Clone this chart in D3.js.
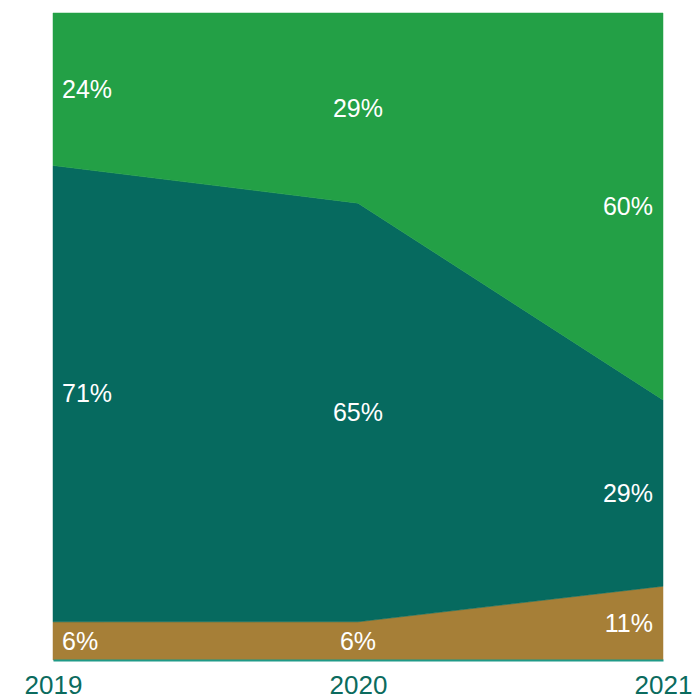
<!DOCTYPE html>
<html lang="en">
<head>
    <meta charset="UTF-8">
    <title>Share by year</title>
    <script src="https://d3js.org/d3.v7.min.js"></script>
    <style>
        body{ margin:0; background:#fff; }
        svg{ display:block; font-family: "Liberation Sans", Arial, sans-serif; }
    </style>
</head>
<body>
    <script>
        // values (shares, bottom to top)
        const years = ["2019", "2020", "2021"]
        const bottomShare = [5.9, 5.9, 11.4]
        const middleShare = [70.6, 64.7, 28.8]
        const topShare = [23.6, 29.4, 59.8]
        const keys = ["bottom", "middle", "top"]
        const colors = ["#a67f37", "#066a5f", "#23a046"]

        const width = 693, height = 697
        const margin = {top:13, left:53, right:30, bottom:37}

        const data = years.map((y,i)=> ({year:y, bottom:bottomShare[i], middle:middleShare[i], top:topShare[i]}))

        const stack = d3.stack().keys(keys).offset(d3.stackOffsetExpand)
        const series = stack(data)

        const xScale = d3.scalePoint()
                            .domain(years)
                            .range([margin.left, width-margin.right])
        const yScale = d3.scaleLinear()
                            .domain([0,1])
                            .range([height-margin.bottom, margin.top])

        const svg = d3.select("body").append("svg")
                        .attr("width", width).attr("height", height)

        const area = d3.area()
                        .x(d=> xScale(d.data.year))
                        .y0(d=> yScale(d[0]))
                        .y1(d=> yScale(d[1]))

        svg.append("g").selectAll("path")
            .data(series)
            .join("path")
            .attr("d", area)
            .attr("fill", (d,i)=> colors[i])
            .attr("stroke", (d,i)=> colors[i])
            .attr("stroke-width", 0.5)

        // labels in the middle of each band
        const fmt = d3.format(".0%")
        const anchors = ["start", "middle", "end"]
        const dx = [9, 0, -10]
        series.forEach(s=> {
            svg.append("g").selectAll("text")
                .data(s)
                .join("text")
                .attr("x", (d,i)=> xScale(d.data.year) + dx[i])
                .attr("y", d=> yScale((d[0]+d[1])/2))
                .attr("dy", "0.35em")
                .attr("text-anchor", (d,i)=> anchors[i])
                .attr("fill", "#fff")
                .attr("font-size", 25)
                .text(d=> fmt(d[1]-d[0]))
        })

        // x axis
        const xAxis = svg.append("g")
                        .attr("transform", `translate(0,${height-margin.bottom})`)
                        .call(d3.axisBottom(xScale).tickSize(0).tickPadding(16))
        xAxis.select(".domain").attr("stroke", "#1f9a88").attr("stroke-width", 2)
        xAxis.selectAll("text")
            .attr("fill", "#0b6b5e")
            .attr("font-size", 26)
            .attr("font-family", "Liberation Sans, Arial, sans-serif")
    </script>
</body>
</html>
